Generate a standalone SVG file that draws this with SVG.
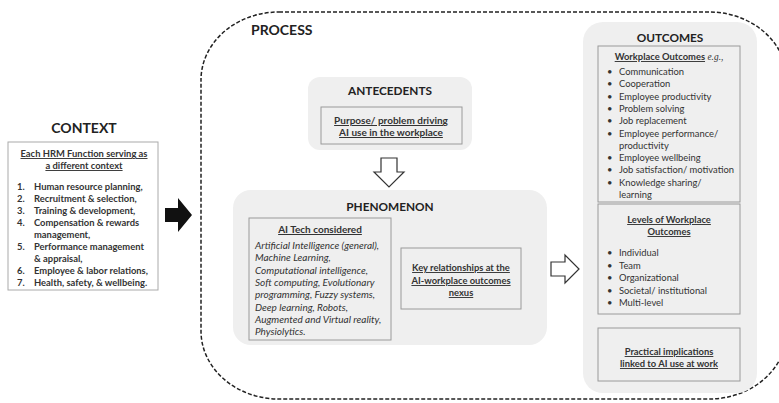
<svg xmlns="http://www.w3.org/2000/svg" width="779" height="403" viewBox="0 0 779 403">
<style>
.t{font-family:Lato,"Open Sans","Liberation Sans",sans-serif;fill:#333;font-size:10px}
.s{font-size:9.4px}
.b{font-weight:bold}
.u{text-decoration:underline}
.i{font-style:italic}
.c{text-anchor:middle}
.h{font-size:11.8px;font-weight:bold;fill:#222}
.panel{fill:#efefef}
.box{fill:none;stroke:#9a9a9a;stroke-width:1}
.hollow{fill:#fff;stroke:#333;stroke-width:1.2}
</style>
<rect width="779" height="403" fill="#fff"/>
<rect x="201" y="12" width="586" height="387" rx="78" ry="68" fill="none" stroke="#222" stroke-width="1.5" stroke-dasharray="4 2"/>

<g id="context">
<text class="t c" x="84" y="133" style="font-size:14px;font-weight:bold;fill:#222">CONTEXT</text>
<rect x="8" y="142" width="150" height="148" fill="#fff" stroke="#aaa"/>
<text class="t s b u c" x="84" y="157">Each HRM Function serving as</text>
<text class="t s b u c" x="84" y="169">a different context</text>
<g class="t s b">
<text x="17" y="190">1.</text><text x="34" y="190">Human resource planning,</text>
<text x="17" y="202">2.</text><text x="34" y="202">Recruitment &amp; selection,</text>
<text x="17" y="214">3.</text><text x="34" y="214">Training &amp; development,</text>
<text x="17" y="226">4.</text><text x="34" y="226">Compensation &amp; rewards</text>
<text x="34" y="238">management,</text>
<text x="17" y="250">5.</text><text x="34" y="250">Performance management</text>
<text x="34" y="262">&amp; appraisal,</text>
<text x="17" y="274">6.</text><text x="34" y="274">Employee &amp; labor relations,</text>
<text x="17" y="286">7.</text><text x="34" y="286">Health, safety, &amp; wellbeing.</text>
</g>
</g>

<text id="process-label" class="t b" x="251" y="35" style="font-size:14px;fill:#222">PROCESS</text>

<g id="antecedents">
<rect class="panel" x="308" y="77" width="164" height="73" rx="12"/>
<text class="t h c" x="390" y="95">ANTECEDENTS</text>
<rect class="box" x="321" y="107" width="141" height="37"/>
<text class="t b u c" x="391" y="124">Purpose/ problem driving</text>
<text class="t b u c" x="391" y="136">AI use in the workplace</text>
</g>

<g id="phenomenon">
<rect class="panel" x="233" y="190" width="314" height="155" rx="18"/>
<text class="t h c" x="390" y="211">PHENOMENON</text>
<rect class="box" x="249" y="218" width="142" height="122"/>
<text class="t b u c" x="320" y="233">AI Tech considered</text>
<g class="t i">
<text x="255" y="249">Artificial Intelligence (general),</text>
<text x="255" y="261.3">Machine Learning,</text>
<text x="255" y="273.6">Computational intelligence,</text>
<text x="255" y="285.9">Soft computing, Evolutionary</text>
<text x="255" y="298.2">programming, Fuzzy systems,</text>
<text x="255" y="310.5">Deep learning, Robots,</text>
<text x="255" y="322.8">Augmented and Virtual reality,</text>
<text x="255" y="335.1">Physiolytics.</text>
</g>
<rect class="box" x="401" y="248" width="120" height="61"/>
<text class="t s b u c" x="461" y="271">Key relationships at the</text>
<text class="t s b u c" x="461" y="284">AI-workplace outcomes</text>
<text class="t s b u c" x="461" y="296">nexus</text>
</g>

<g id="outcomes">
<rect class="panel" x="583" y="22" width="174" height="371" rx="20"/>
<text class="t h c" x="670" y="42">OUTCOMES</text>
<rect class="box" x="598" y="46" width="142" height="156"/>
<text class="t s c" x="669" y="60"><tspan class="b u">Workplace Outcomes</tspan> <tspan style="font-family:'Liberation Serif',serif;font-style:italic">e.g.,</tspan></text>
<g class="t s">
<text x="607" y="75">•</text><text x="619" y="75">Communication</text>
<text x="607" y="87.3">•</text><text x="619" y="87.3">Cooperation</text>
<text x="607" y="99.6">•</text><text x="619" y="99.6">Employee productivity</text>
<text x="607" y="111.9">•</text><text x="619" y="111.9">Problem solving</text>
<text x="607" y="124.2">•</text><text x="619" y="124.2">Job replacement</text>
<text x="607" y="136.5">•</text><text x="619" y="136.5">Employee performance/</text>
<text x="619" y="148.8">productivity</text>
<text x="607" y="161.1">•</text><text x="619" y="161.1">Employee wellbeing</text>
<text x="607" y="173.4">•</text><text x="619" y="173.4">Job satisfaction/ motivation</text>
<text x="607" y="185.7">•</text><text x="619" y="185.7">Knowledge sharing/</text>
<text x="619" y="198">learning</text>
</g>
<rect class="box" x="598" y="204" width="142" height="110"/>
<text class="t s b u c" x="669" y="223">Levels of Workplace</text>
<text class="t s b u c" x="669" y="235">Outcomes</text>
<g class="t s">
<text x="607" y="256">•</text><text x="619" y="256">Individual</text>
<text x="607" y="268.5">•</text><text x="619" y="268.5">Team</text>
<text x="607" y="281">•</text><text x="619" y="281">Organizational</text>
<text x="607" y="293.5">•</text><text x="619" y="293.5">Societal/ institutional</text>
<text x="607" y="306">•</text><text x="619" y="306">Multi-level</text>
</g>
<rect class="box" x="598" y="328" width="142" height="53"/>
<text class="t s b u c" x="669" y="355">Practical implications</text>
<text class="t s b u c" x="669" y="367">linked to AI use at work</text>
</g>

<g id="connectors">
<polygon points="165,208 178,208 178,198 192,215 178,232 178,222 165,222" fill="#111"/>
<polygon class="hollow" points="381,158 397,158 397,172 404,172 389,187 374,172 381,172"/>
<polygon class="hollow" points="551,262 565,262 565,255 579,269 565,283 565,276 551,276"/>
</g>
</svg>
